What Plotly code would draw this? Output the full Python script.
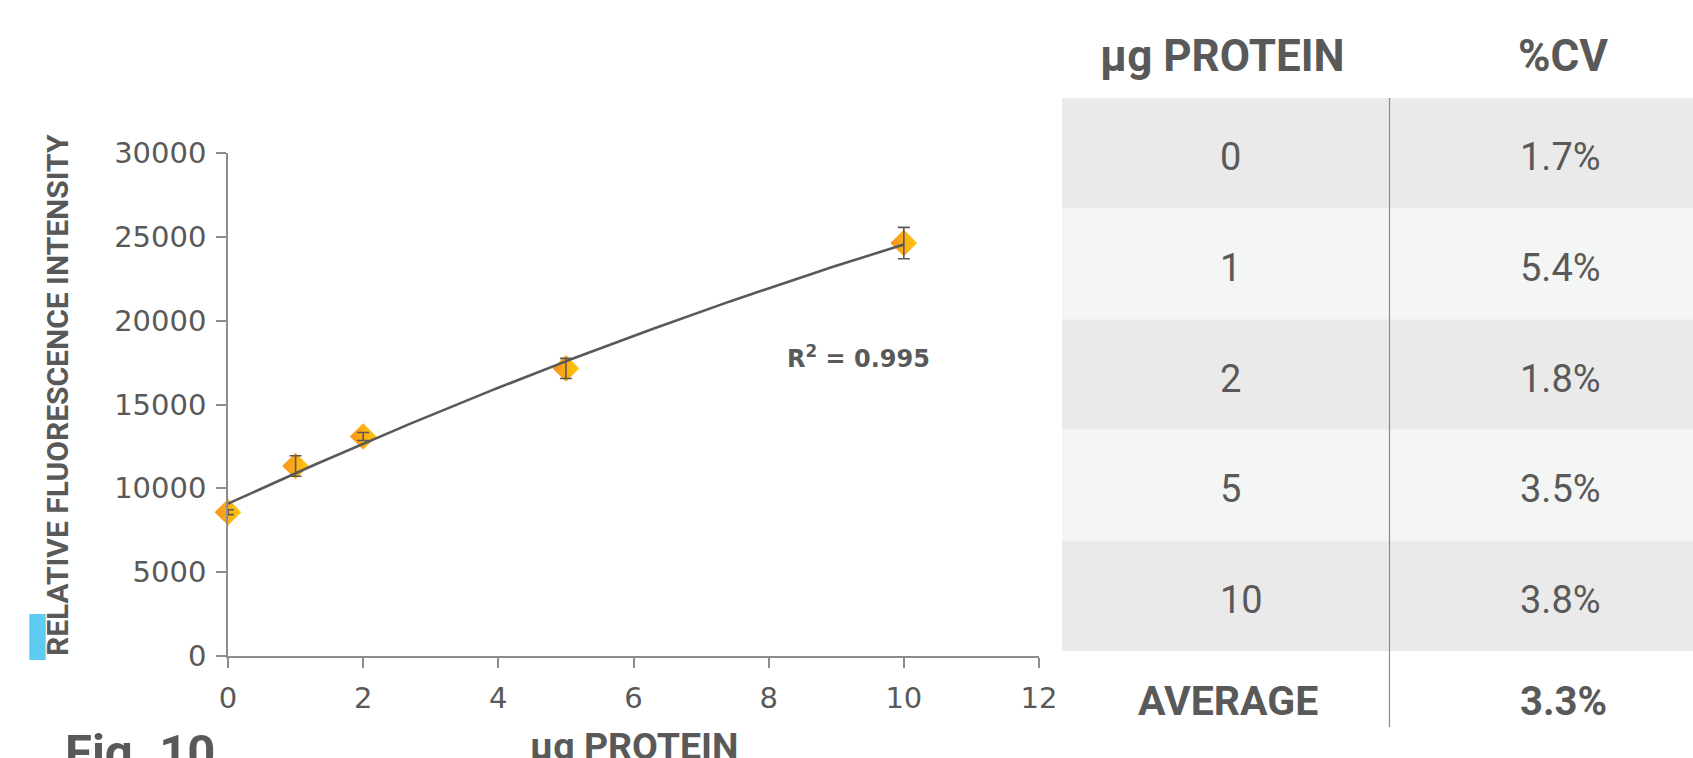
import numpy as np
import plotly.graph_objects as go

# ---- data ----
protein_ug = [0, 1, 2, 5, 10]
fluorescence = [8575, 11330, 13090, 17150, 24630]
cv_pct = [1.7, 5.4, 1.8, 3.5, 3.8]
average_cv_pct = 3.3
r_squared = 0.995

x_ticks = [0, 2, 4, 6, 8, 10, 12]
y_ticks = [0, 5000, 10000, 15000, 20000, 25000, 30000]

# ---- page geometry (pixels) ----
W, H = 1693, 758
L, R, T, B = 228, 654, 153, 102
PW = W - L - R
PH = H - T - B


def px(xp):
    return (xp - L) / PW


def py(yp):
    return (H - B - yp) / PH


TXT = "#595959"
AXIS = "#8c8c8c"
ROW_DARK = "#eaeaea"
ROW_LIGHT = "#f4f5f5"

# error bars from the coefficient of variation of each mean
sd = [m * c / 100 for m, c in zip(fluorescence, cv_pct)]

# second-order polynomial trendline
coef = np.polyfit(protein_ug, fluorescence, 2)
fit_x = np.linspace(min(protein_ug), max(protein_ug), 200)
fit_y = np.polyval(coef, fit_x)

fig = go.Figure()
# diamonds: orange on the left fading to yellow on the right
fig.add_trace(go.Scatter(
    x=protein_ug, y=fluorescence, mode="markers",
    marker=dict(symbol="diamond", size=20.5, color="#f7921e",
                gradient=dict(type="horizontal", color="#ffc80c"),
                line=dict(width=0)),
    cliponaxis=False, showlegend=False, hoverinfo="skip"))
fig.add_trace(go.Scatter(
    x=fit_x, y=fit_y, mode="lines",
    line=dict(color=TXT, width=2.6),
    cliponaxis=False, showlegend=False, hoverinfo="skip"))
fig.add_trace(go.Scatter(
    x=protein_ug, y=fluorescence, mode="markers",
    marker=dict(color="rgba(0,0,0,0)", size=1),
    error_y=dict(type="data", array=sd, color=TXT, thickness=1.6, width=6),
    cliponaxis=False, showlegend=False, hoverinfo="skip"))

axis_common = dict(
    showline=True, linecolor=AXIS, linewidth=1.6,
    ticks="outside", ticklen=10, tickcolor=AXIS, tickwidth=1.6,
    showgrid=False, zeroline=False,
    tickfont=dict(family="DejaVu Sans", size=29, color=TXT),
)

fig.update_layout(
    width=W, height=H,
    margin=dict(l=L, r=R, t=T, b=B, pad=0, autoexpand=False),
    paper_bgcolor="white", plot_bgcolor="white",
    xaxis=dict(range=[0, 12], tickvals=x_ticks, ticktext=[str(v) for v in x_ticks],
               ticklabelstandoff=5, **axis_common),
    yaxis=dict(range=[0, 30000], tickvals=y_ticks, ticktext=[str(v) for v in y_ticks],
               ticklabelstandoff=4, **axis_common),
)

shapes = []
annotations = []

# colour key next to the y-axis title
shapes.append(dict(type="rect", xref="paper", yref="paper",
                   x0=px(29.3), x1=px(45.7), y0=py(660), y1=py(614),
                   fillcolor="#5ecbf2", line=dict(width=0), layer="above"))

annotations.append(dict(
    text="RELATIVE FLUORESCENCE INTENSITY", textangle=-90,
    x=px(57), y=py(395), xref="paper", yref="paper",
    xanchor="center", yanchor="middle", showarrow=False,
    font=dict(family="Roboto", size=30, color=TXT, weight=700)))

annotations.append(dict(
    text="R<sup>2</sup> = %.3f" % r_squared,
    x=px(858), y=py(357), xref="paper", yref="paper",
    xanchor="center", yanchor="middle", showarrow=False,
    font=dict(family="DejaVu Sans", size=24, color=TXT, weight=700)))

annotations.append(dict(
    text="μg PROTEIN", x=px(634), y=py(746), xref="paper", yref="paper",
    xanchor="center", yanchor="middle", showarrow=False,
    font=dict(family="Roboto", size=37.5, color=TXT, weight=700)))

annotations.append(dict(
    text="Fig. 10", x=px(63), y=py(752), xref="paper", yref="paper",
    xanchor="left", yanchor="middle", showarrow=False,
    font=dict(family="Roboto", size=49, color=TXT, weight=700)))

# ---- %CV table ----
tbl_left, tbl_right = 1062, W + 2
row_top, row_h = 98, 110.6
col_split = 1389.5
col1_left, col2_left = 1218, 1518

for i, (amt, cv) in enumerate(zip(protein_ug, cv_pct)):
    y0 = row_top + i * row_h
    y1 = y0 + row_h
    shapes.append(dict(type="rect", xref="paper", yref="paper",
                       x0=px(tbl_left), x1=px(tbl_right), y0=py(y1), y1=py(y0),
                       fillcolor=ROW_DARK if i % 2 == 0 else ROW_LIGHT,
                       line=dict(width=0), layer="below"))
    yc = (y0 + y1) / 2 + 4
    annotations.append(dict(
        text=str(amt), x=px(col1_left), y=py(yc), xref="paper", yref="paper",
        xanchor="left", yanchor="middle", showarrow=False,
        font=dict(family="Roboto", size=38, color=TXT)))
    annotations.append(dict(
        text="%.1f%%" % cv, x=px(col2_left), y=py(yc), xref="paper", yref="paper",
        xanchor="left", yanchor="middle", showarrow=False,
        font=dict(family="Roboto", size=38, color=TXT)))

shapes.append(dict(type="line", xref="paper", yref="paper",
                   x0=px(col_split), x1=px(col_split), y0=py(727), y1=py(row_top),
                   line=dict(color="#8a8a8a", width=1.2), layer="above"))

header_font = dict(family="Roboto", size=44, color=TXT, weight=700)
annotations.append(dict(
    text="μg PROTEIN", x=px(1222), y=py(56), xref="paper", yref="paper",
    xanchor="center", yanchor="middle", showarrow=False, font=header_font))
annotations.append(dict(
    text="%CV", x=px(1516), y=py(56), xref="paper", yref="paper",
    xanchor="left", yanchor="middle", showarrow=False, font=header_font))
annotations.append(dict(
    text="AVERAGE", x=px(1228), y=py(701), xref="paper", yref="paper",
    xanchor="center", yanchor="middle", showarrow=False,
    font=dict(family="Roboto", size=41, color=TXT, weight=700)))
annotations.append(dict(
    text="%.1f%%" % average_cv_pct, x=px(col2_left), y=py(701), xref="paper", yref="paper",
    xanchor="left", yanchor="middle", showarrow=False,
    font=dict(family="Roboto", size=40, color=TXT, weight=700)))

fig.update_layout(shapes=shapes, annotations=annotations)
fig.write_html("out.html")
